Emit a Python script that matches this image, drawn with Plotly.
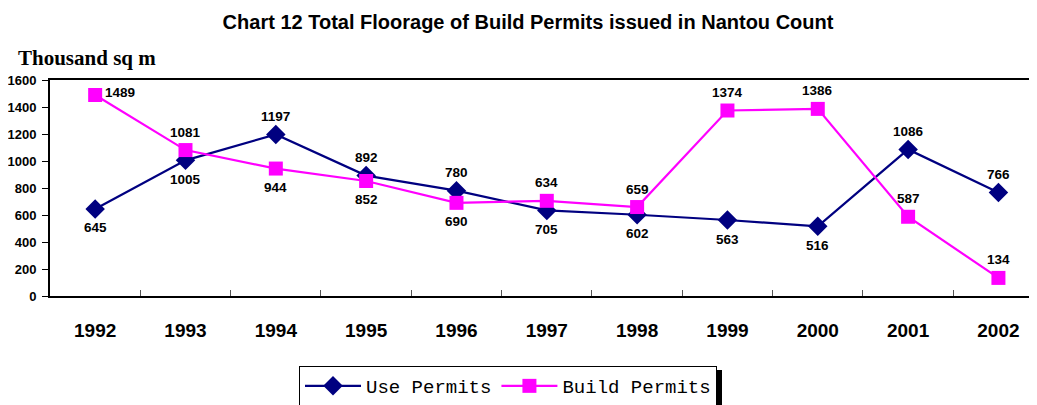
import plotly.graph_objects as go

years = ["1992", "1993", "1994", "1995", "1996", "1997", "1998", "1999", "2000", "2001", "2002"]
use_permits = [645, 1005, 1197, 892, 780, 634, 602, 563, 516, 1086, 766]
build_permits = [1489, 1081, 944, 852, 690, 705, 659, 1374, 1386, 587, 134]
# data-label texts as printed in the picture
use_labels = ["645", "1005", "1197", "892", "780", "705", "602", "563", "516", "1086", "766"]
build_labels = ["1489", "1081", "944", "852", "690", "634", "659", "1374", "1386", "587", "134"]
use_label_side = ["below", "below", "above", "above", "above", "below", "below", "below", "below", "above", "above"]
build_label_side = ["right", "above", "below", "below", "below", "above", "above", "above", "above", "above", "above"]

NAVY = "#000080"
MAGENTA = "#FF00FF"

# page body has an 8px offset; plot area in window: x 50..1037, y 80..296
OFF = 8
PL, PT, PW, PH = 50, 80, 987, 216


def px_x(px):
    return (px - PL) / PW


def px_y(py):
    return (PT + PH - py) / PH


fig = go.Figure()
fig.add_trace(go.Scatter(
    x=years, y=use_permits, name="Use Permits", mode="lines+markers",
    line=dict(color=NAVY, width=2.2),
    marker=dict(symbol="diamond", size=15, color=NAVY),
))
fig.add_trace(go.Scatter(
    x=years, y=build_permits, name="Build Permits", mode="lines+markers",
    line=dict(color=MAGENTA, width=2.2),
    marker=dict(symbol="square", size=14, color=MAGENTA),
))

label_font = dict(family="Liberation Sans, Arial", size=13.5, color="black")
annotations = []
for vals, labels, sides in ((use_permits, use_labels, use_label_side),
                            (build_permits, build_labels, build_label_side)):
    for i, (v, t, s) in enumerate(zip(vals, labels, sides)):
        a = dict(x=i, y=v, text="<b>" + t + "</b>", showarrow=False, font=label_font)
        if s == "above":
            a["yshift"] = 18
        elif s == "below":
            a["yshift"] = -19
        else:
            a["xshift"] = 25
            a["yshift"] = 2
        annotations.append(a)

annotations.append(dict(
    text="<b>Thousand sq m</b>", xref="paper", yref="paper",
    x=px_x(16), y=px_y(58), xanchor="left", yanchor="middle",
    showarrow=False, font=dict(family="Liberation Serif, Times New Roman", size=21, color="black"),
))

fig.update_layout(
    width=1037, height=405,
    margin=dict(l=PL - OFF, r=OFF, t=PT - OFF, b=405 - (PT + PH - OFF), autoexpand=False),
    paper_bgcolor="white", plot_bgcolor="white",
    title=dict(
        text="<b>Chart 12 Total Floorage of Build Permits issued in Nantou Count</b>",
        x=(528 - OFF) / 1037, xanchor="center", y=1 - (22 - OFF) / 405, yanchor="middle",
        font=dict(family="Liberation Sans, Arial", size=20, color="black"),
    ),
    showlegend=True,
    legend=dict(
        orientation="h", x=px_x(299), xanchor="left",
        y=px_y(366), yanchor="top",
        bordercolor="black", borderwidth=1, bgcolor="white",
        font=dict(family="Liberation Mono, DejaVu Sans Mono", size=19, color="black"),
        itemwidth=56,
    ),
    annotations=annotations,
    shapes=[dict(
        type="rect", xref="paper", yref="paper",
        x0=px_x(717), x1=px_x(722),
        y0=px_y(410), y1=px_y(370),
        fillcolor="black", line=dict(width=0), layer="above",
    )],
)

fig.update_xaxes(
    type="category", range=[-0.5, 10.427], automargin=False,
    showline=True, linecolor="black", linewidth=2, mirror=True,
    showgrid=False, zeroline=False,
    ticks="inside", tickson="boundaries", ticklen=6, tickcolor="#555555", tickwidth=1,
    ticklabelstandoff=16,
    tickfont=dict(family="Liberation Sans, Arial", size=19, color="black"),
    tickprefix="<b>", ticksuffix="</b>",
)
fig.update_yaxes(
    range=[0, 1600], tickvals=[0, 200, 400, 600, 800, 1000, 1200, 1400, 1600], automargin=False,
    ticktext=["<b>%d</b>" % v for v in [0, 200, 400, 600, 800, 1000, 1200, 1400, 1600]],
    showline=True, linecolor="black", linewidth=2,
    showgrid=False, zeroline=False,
    ticks="outside", ticklen=6, tickcolor="black", tickwidth=1,
    ticklabelstandoff=3,
    tickfont=dict(family="Liberation Sans, Arial", size=13, color="black"),
)

fig.write_html("out.html")
